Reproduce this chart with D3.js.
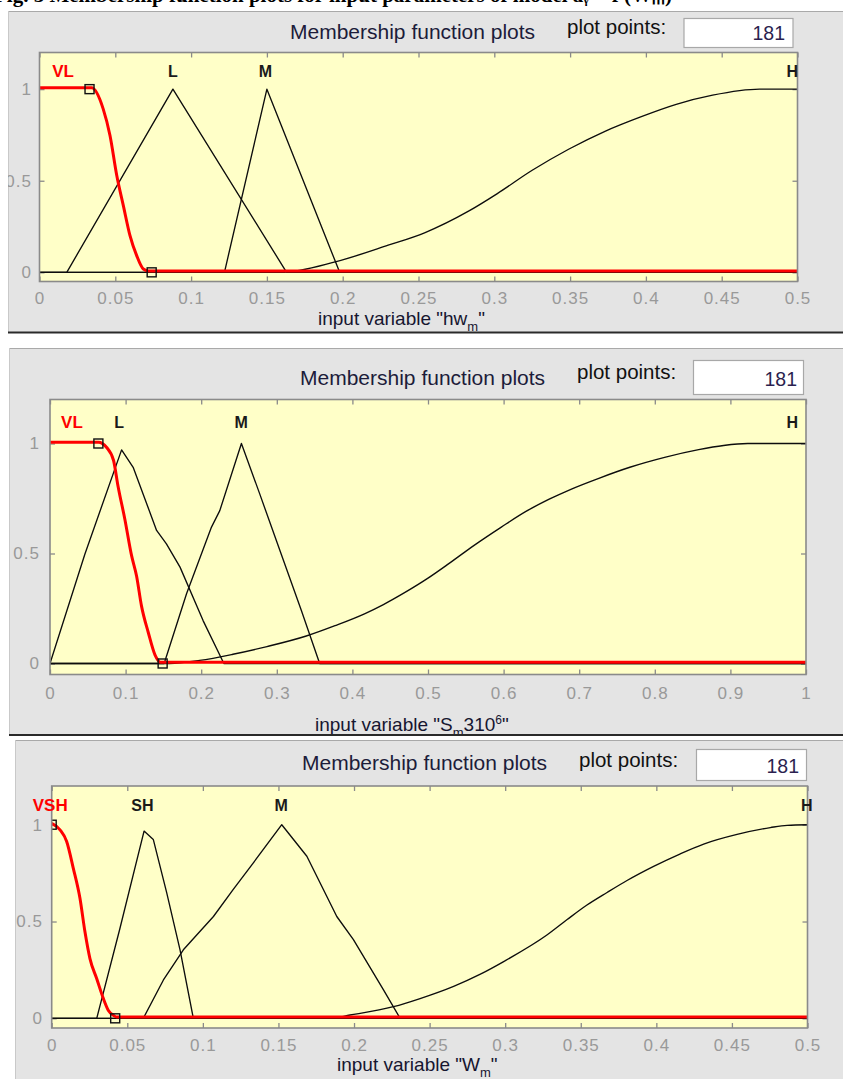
<!DOCTYPE html>
<html>
<head>
<meta charset="utf-8">
<script src="https://cdn.jsdelivr.net/npm/d3@7"></script>
<style>
  html, body { margin: 0; padding: 0; background: #ffffff; }
  svg { display: block; font-family: Arial, "Liberation Sans", sans-serif; }
</style>
</head>
<body>
<svg id="fig" width="843" height="1079"></svg>
<script>
// ---- shared values ----
const plotPoints = 181;
const yTicks = [0, 0.5, 1];
const yTickLabels = ["0", "0.5", "1"];

// ---- input variable hw_m (range 0 .. 0.5) ----
const hwTicks = [0, 0.05, 0.1, 0.15, 0.2, 0.25, 0.3, 0.35, 0.4, 0.45, 0.5];
const hwTickLabels = ["0", "0.05", "0.1", "0.15", "0.2", "0.25", "0.3", "0.35", "0.4", "0.45", "0.5"];
const hwNames = ["VL", "L", "M", "H"];
const hwNameX = [0.0155, 0.088, 0.149, 0.4965];
const hwVL = [[0, 1], [0.0344, 1], [0.042, 0.885], [0.0465, 0.74], [0.051, 0.52], [0.0553, 0.357],
  [0.0597, 0.193], [0.0641, 0.084], [0.0685, 0.011], [0.072, 0], [0.5, 0]];
const hwL = [[0, 0], [0.018, 0], [0.088, 1], [0.163, 0], [0.5, 0]];
const hwM = [[0, 0], [0.122, 0], [0.15, 1], [0.198, 0], [0.5, 0]];
const hwH = [[0, 0], [0.159, 0], [0.195, 0.057], [0.230, 0.148], [0.254, 0.216], [0.283, 0.334],
  [0.302, 0.430], [0.325, 0.557], [0.349, 0.672], [0.373, 0.770], [0.397, 0.850], [0.420, 0.917],
  [0.444, 0.967], [0.475, 1], [0.5, 1]];
const hwMarkers = [[0.033, 1], [0.074, 0]];

// ---- input variable S_m (range 0 .. 1) ----
const smTicks = [0, 0.1, 0.2, 0.3, 0.4, 0.5, 0.6, 0.7, 0.8, 0.9, 1];
const smTickLabels = ["0", "0.1", "0.2", "0.3", "0.4", "0.5", "0.6", "0.7", "0.8", "0.9", "1"];
const smNames = ["VL", "L", "M", "H"];
const smNameX = [0.029, 0.0916, 0.253, 0.982];
const smVL = [[0, 1], [0.064, 1], [0.075, 0.976], [0.084, 0.918], [0.090, 0.80], [0.099, 0.65],
  [0.108, 0.483], [0.1145, 0.392], [0.121, 0.256], [0.130, 0.135], [0.139, 0.032], [0.146, 0], [1, 0]];
const smL = [[0, 0], [0.0462, 0.498], [0.0947, 0.971], [0.110, 0.892], [0.141, 0.605], [0.154, 0.544],
  [0.172, 0.438], [0.2025, 0.195], [0.230, 0], [1, 0]];
const smM = [[0, 0], [0.151, 0], [0.1806, 0.317], [0.2136, 0.62], [0.2246, 0.695], [0.2532, 1],
  [0.2774, 0.771], [0.2994, 0.559], [0.3325, 0.241], [0.3567, 0], [1, 0]];
const smH = [[0, 0], [0.158, 0], [0.198, 0.014], [0.242, 0.042], [0.287, 0.077], [0.339, 0.125],
  [0.377, 0.172], [0.416, 0.226], [0.441, 0.268], [0.469, 0.322], [0.5, 0.388], [0.528, 0.455],
  [0.561, 0.537], [0.597, 0.620], [0.629, 0.690], [0.661, 0.748], [0.689, 0.792], [0.726, 0.842],
  [0.767, 0.892], [0.813, 0.937], [0.858, 0.972], [0.891, 0.991], [0.923, 1], [1, 1]];
const smMarkers = [[0.064, 1], [0.149, 0]];

// ---- input variable W_m (range 0 .. 0.5) ----
const wmTicks = [0, 0.05, 0.1, 0.15, 0.2, 0.25, 0.3, 0.35, 0.4, 0.45, 0.5];
const wmTickLabels = ["0", "0.05", "0.1", "0.15", "0.2", "0.25", "0.3", "0.35", "0.4", "0.45", "0.5"];
const wmNames = ["VSH", "SH", "M", "H"];
const wmNameX = [-0.001, 0.060, 0.1518, 0.4995];
const wmVSH = [[0, 1], [0.0055, 0.967], [0.0099, 0.907], [0.0143, 0.768], [0.0187, 0.613], [0.022, 0.44],
  [0.0253, 0.302], [0.0298, 0.198], [0.0342, 0.095], [0.0375, 0.034], [0.041, 0.008], [0.043, 0], [0.5, 0]];
const wmSH = [[0, 0], [0.0298, 0], [0.045, 0.46], [0.0611, 0.967], [0.0672, 0.924],
  [0.0761, 0.648], [0.0849, 0.354], [0.0937, 0], [0.5, 0]];
const wmM = [[0, 0], [0.0606, 0], [0.0739, 0.198], [0.0871, 0.354], [0.107, 0.526], [0.120, 0.665],
  [0.1334, 0.803], [0.1522, 1], [0.1688, 0.837], [0.1886, 0.526], [0.1996, 0.406], [0.2195, 0.147],
  [0.2305, 0], [0.5, 0]];
const wmH = [[0, 0], [0.184, 0], [0.1974, 0.017], [0.2261, 0.06], [0.2437, 0.102], [0.2659, 0.165],
  [0.2836, 0.228], [0.299, 0.293], [0.3276, 0.430], [0.341, 0.510], [0.3541, 0.585],
  [0.3674, 0.650], [0.3806, 0.712], [0.3982, 0.785], [0.4159, 0.850], [0.4313, 0.900], [0.4534, 0.950],
  [0.4754, 0.985], [0.4865, 0.997], [0.5, 1]];
const wmMarkers = [[0, 1], [0.042, 0]];

// ---- drawing ----
const svg = d3.select("#fig");
const defs = svg.append("defs");

// caption line of the page, cut by the first window
svg.append("text")
  .attr("x", -6).attr("y", 2)
  .attr("font-family", "'Liberation Serif', 'Times New Roman', serif")
  .attr("font-weight", "bold").attr("font-size", 21)
  .attr("fill", "#000")
  .text("Fig. 5 Membership function plots for input parameters of model   a\u1d67 = f (W\u2098)");

const panels = [
  {
    id: "p1", box: {x: 8, y: 11, w: 835, h: 321}, bottomLine: 332.5,
    plot: {l: 39.5, r: 797.5, t: 52.5, b: 281.5},
    xDomain: [0, 0.5], ticks: hwTicks, tickLabels: hwTickLabels, xPad: 10.4, yPad: 7.5,
    title: {x: 290, y: 38.5}, pp: {x: 567, y: 33.5}, ppBox: {x: 684, y: 18.5, w: 109, h: 29}, ppVal: {x: 785, y: 39.5},
    label: {x: 318, y: 324.5, parts: [["input variable \"hw", 0], ["m", 1], ["\"", -1]]},
    names: hwNames, nameX: hwNameX,
    others: [hwL, hwM, hwH], smooth: [false, false, true], selected: hwVL, markers: hwMarkers
  },
  {
    id: "p2", box: {x: 9, y: 348, w: 834, h: 386}, bottomLine: 735,
    plot: {l: 50, r: 806, t: 399.5, b: 674.5},
    xDomain: [0, 1], ticks: smTicks, tickLabels: smTickLabels, xPad: 12.2, yPad: 10,
    title: {x: 300, y: 385}, pp: {x: 577, y: 379}, ppBox: {x: 693.5, y: 360.5, w: 110, h: 34}, ppVal: {x: 797, y: 385.5},
    label: {x: 315, y: 731, parts: [["input variable \"S", 0], ["m", 1], ["310", -1], ["6", 2], ["\"", -2]]},
    names: smNames, nameX: smNameX,
    others: [smL, smM, smH], smooth: [false, false, true], selected: smVL, markers: smMarkers
  },
  {
    id: "p3", box: {x: 15, y: 740, w: 828, h: 339}, bottomLine: null,
    plot: {l: 51.7, r: 807.5, t: 786, b: 1028},
    xDomain: [0, 0.5], ticks: wmTicks, tickLabels: wmTickLabels, xPad: 10.9, yPad: 8.7,
    title: {x: 302, y: 770}, pp: {x: 579, y: 767}, ppBox: {x: 696.5, y: 749.5, w: 110, h: 31}, ppVal: {x: 799, y: 772.5},
    label: {x: 337, y: 1071, parts: [["input variable \"W", 0], ["m", 1], ["\"", -1]]},
    names: wmNames, nameX: wmNameX,
    others: [wmSH, wmM, wmH], smooth: [false, false, true], selected: wmVSH, markers: wmMarkers
  }
];

panels.forEach(p => {
  // clip regions: the window and the axes area
  defs.append("clipPath").attr("id", p.id + "-win")
    .append("rect").attr("x", p.box.x).attr("y", p.box.y).attr("width", p.box.w).attr("height", p.box.h);
  defs.append("clipPath").attr("id", p.id + "-ax")
    .append("rect").attr("x", p.plot.l).attr("y", p.plot.t)
    .attr("width", p.plot.r - p.plot.l).attr("height", p.plot.b - p.plot.t);

  const g = svg.append("g");
  // window background
  g.append("rect").attr("x", p.box.x).attr("y", p.box.y).attr("width", p.box.w).attr("height", p.box.h)
    .attr("fill", "#e4e4e4");
  g.append("line").attr("x1", p.box.x).attr("x2", p.box.x + p.box.w).attr("y1", p.box.y + 0.5).attr("y2", p.box.y + 0.5)
    .attr("stroke", "#a9a9a9").attr("stroke-width", 1);
  g.append("line").attr("x1", p.box.x + 0.5).attr("x2", p.box.x + 0.5).attr("y1", p.box.y).attr("y2", p.box.y + p.box.h)
    .attr("stroke", "#c9c9c9").attr("stroke-width", 1);
  if (p.bottomLine !== null) {
    g.append("line").attr("x1", p.box.x).attr("x2", p.box.x + p.box.w).attr("y1", p.bottomLine).attr("y2", p.bottomLine)
      .attr("stroke", "#2a2a2a").attr("stroke-width", 2.2);
  }

  const win = g.append("g").attr("clip-path", `url(#${p.id}-win)`);

  // header: title, plot points field
  win.append("text").attr("x", p.title.x).attr("y", p.title.y)
    .attr("font-size", 21).attr("fill", "#1c1c3a").text("Membership function plots");
  win.append("text").attr("x", p.pp.x).attr("y", p.pp.y)
    .attr("font-size", 20.5).attr("fill", "#111").text("plot points:");
  win.append("rect").attr("x", p.ppBox.x).attr("y", p.ppBox.y).attr("width", p.ppBox.w).attr("height", p.ppBox.h)
    .attr("fill", "#ffffff").attr("stroke", "#a8a8a8").attr("stroke-width", 1.2);
  win.append("text").attr("x", p.ppVal.x).attr("y", p.ppVal.y).attr("text-anchor", "end")
    .attr("font-size", 19.5).attr("fill", "#2b1f50").text(String(plotPoints));

  // scales
  const x = d3.scaleLinear().domain(p.xDomain).range([p.plot.l, p.plot.r]);
  const y = d3.scaleLinear().domain([-0.05, 1.2]).range([p.plot.b, p.plot.t]);

  // axes area
  win.append("rect").attr("x", p.plot.l).attr("y", p.plot.t)
    .attr("width", p.plot.r - p.plot.l).attr("height", p.plot.b - p.plot.t)
    .attr("fill", "#ffffc8");

  const tickColor = "#8a8a8a";
  const styleAxis = sel => {
    sel.select(".domain").remove();
    sel.selectAll(".tick line").attr("stroke", tickColor).attr("stroke-width", 1.3);
    sel.selectAll(".tick text").attr("fill", "#999999").attr("font-size", 17)
      .attr("letter-spacing", 1).attr("font-family", "Arial, 'Liberation Sans', sans-serif");
  };
  const fmtX = d => p.tickLabels[p.ticks.indexOf(d)];
  const fmtY = d => yTickLabels[yTicks.indexOf(d)];

  win.append("g").attr("transform", `translate(0,${p.plot.b})`)
    .call(d3.axisBottom(x).tickValues(p.ticks).tickFormat(fmtX).tickSizeInner(-5).tickSizeOuter(0).tickPadding(p.xPad))
    .call(styleAxis);
  win.append("g").attr("transform", `translate(0,${p.plot.t})`)
    .call(d3.axisTop(x).tickValues(p.ticks).tickFormat("").tickSizeInner(-5).tickSizeOuter(0))
    .call(styleAxis);
  win.append("g").attr("transform", `translate(${p.plot.l},0)`)
    .call(d3.axisLeft(y).tickValues(yTicks).tickFormat(fmtY).tickSizeInner(-5).tickSizeOuter(0).tickPadding(p.yPad))
    .call(styleAxis);
  win.append("g").attr("transform", `translate(${p.plot.r},0)`)
    .call(d3.axisRight(y).tickValues(yTicks).tickFormat("").tickSizeInner(-5).tickSizeOuter(0))
    .call(styleAxis);

  // membership curves
  const curves = win.append("g").attr("clip-path", `url(#${p.id}-ax)`);
  const lineLin = d3.line().x(d => x(d[0])).y(d => y(d[1]));
  const lineSmooth = d3.line().x(d => x(d[0])).y(d => y(d[1])).curve(d3.curveMonotoneX);
  p.others.forEach((mf, i) => {
    curves.append("path").datum(mf)
      .attr("d", p.smooth[i] ? lineSmooth : lineLin)
      .attr("fill", "none").attr("stroke", "#0d0d0d").attr("stroke-width", 1.35)
      .attr("stroke-linejoin", "round");
  });
  curves.append("path").datum(p.selected)
    .attr("d", lineSmooth)
    .attr("transform", "translate(0,-1.3)")
    .attr("fill", "none").attr("stroke", "#ff0000").attr("stroke-width", 3)
    .attr("stroke-linejoin", "round");
  curves.selectAll("rect.marker").data(p.markers).join("rect")
    .attr("class", "marker")
    .attr("x", d => x(d[0]) - 4.5).attr("y", d => y(d[1]) - 4.5)
    .attr("width", 9).attr("height", 9)
    .attr("fill", "none").attr("stroke", "#111").attr("stroke-width", 1.4);

  // axes box
  win.append("rect").attr("x", p.plot.l).attr("y", p.plot.t)
    .attr("width", p.plot.r - p.plot.l).attr("height", p.plot.b - p.plot.t)
    .attr("fill", "none").attr("stroke", tickColor).attr("stroke-width", 1.6);

  // membership function names
  win.selectAll("text.mfname").data(p.names).join("text")
    .attr("class", "mfname")
    .attr("x", (d, i) => x(p.nameX[i])).attr("y", y(1.1) + 6)
    .attr("text-anchor", "middle")
    .attr("font-size", (d, i) => i === 0 ? 17 : 16)
    .attr("font-weight", "bold")
    .attr("fill", (d, i) => i === 0 ? "#ff0000" : "#1a1a1a")
    .text(d => d);

  // axis label with sub/superscripts
  const lab = win.append("text").attr("x", p.label.x).attr("y", p.label.y)
    .attr("font-size", 19).attr("fill", "#161630");
  p.label.parts.forEach(([txt, mode]) => {
    const t = lab.append("tspan").text(txt);
    if (mode === 1) t.attr("font-size", 13).attr("dy", 6);
    if (mode === -1) t.attr("dy", -6);
    if (mode === 2) t.attr("font-size", 12).attr("dy", -7);
    if (mode === -2) t.attr("dy", 7);
  });
});
</script>
</body>
</html>
